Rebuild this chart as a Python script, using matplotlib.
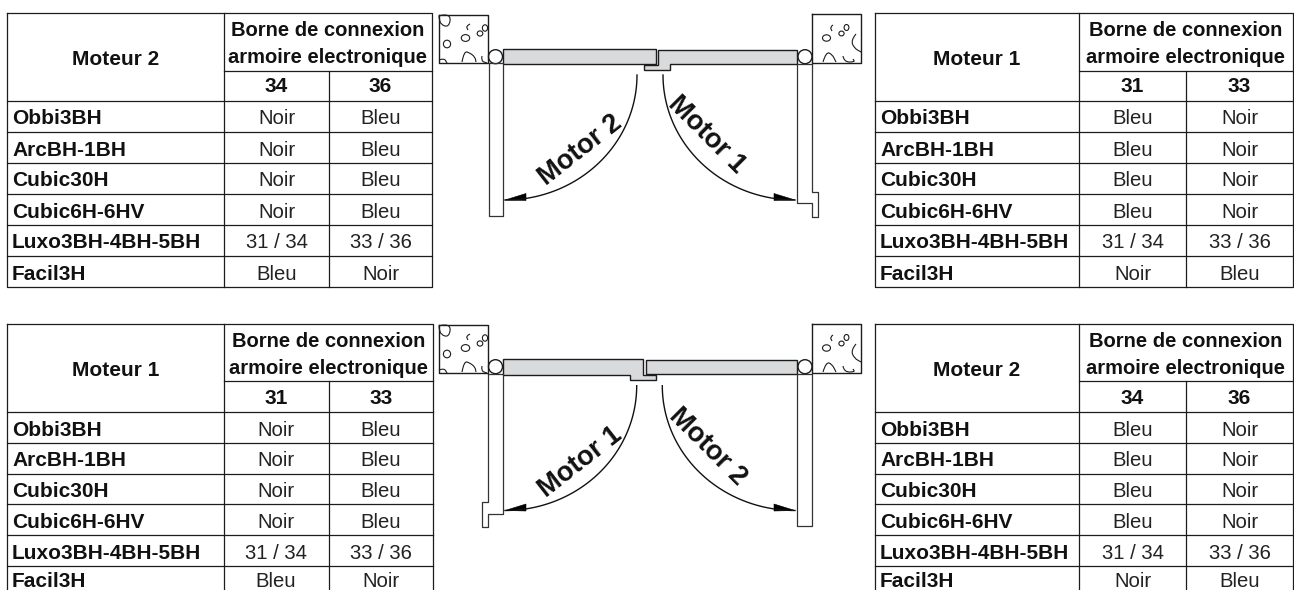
import matplotlib.pyplot as plt
from matplotlib.patches import Circle, Ellipse, Polygon, PathPatch
from matplotlib.path import Path
import numpy as np

plt.rcParams['font.family'] = ['Liberation Sans', 'DejaVu Sans']

# table contents
models = ['Obbi3BH', 'ArcBH-1BH', 'Cubic30H', 'Cubic6H-6HV', 'Luxo3BH-4BH-5BH', 'Facil3H']
header = ['Borne de connexion', 'armoire electronique']
vals_a = ['Noir', 'Noir', 'Noir', 'Noir', '31 / 34', 'Bleu']
vals_b = ['Bleu', 'Bleu', 'Bleu', 'Bleu', '33 / 36', 'Noir']
vals_c = ['Bleu', 'Bleu', 'Bleu', 'Bleu', '31 / 34', 'Noir']
vals_d = ['Noir', 'Noir', 'Noir', 'Noir', '33 / 36', 'Bleu']

LINE = '#1c1c1c'
GREY = '#d9dadb'
INK = '#111111'

fig = plt.figure(figsize=(12.94, 5.9), dpi=100)
ax = fig.add_axes([0, 0, 1, 1])
ax.set_xlim(0, 1294)
ax.set_ylim(590, 0)
ax.axis('off')


def draw_table(xs, y0, split, step, title, cols, col1, col2):
    x0, x1, x2, x3 = xs
    rows = [y0 + 88 + step * i for i in range(7)]
    ax.plot([x0, x3, x3, x0, x0], [y0, y0, rows[6], rows[6], y0], color=LINE, lw=0.9)
    ax.plot([x1, x1], [y0, rows[6]], color=LINE, lw=0.9)
    ax.plot([x2, x2], [split, rows[6]], color=LINE, lw=0.9)
    ax.plot([x1, x3], [split, split], color=LINE, lw=0.9)
    for y in rows[:-1]:
        ax.plot([x0, x3], [y, y], color=LINE, lw=0.9)
    xm = (x1 + x3) / 2
    ax.text((x0 + x1) / 2, y0 + 52, title, ha='center', va='baseline', fontsize=15, fontweight='bold', color=INK)
    ax.text(xm, y0 + 23, header[0], ha='center', va='baseline', fontsize=14.5, fontweight='bold', color=INK)
    ax.text(xm, y0 + 50, header[1], ha='center', va='baseline', fontsize=14.5, fontweight='bold', color=INK)
    ax.text((x1 + x2) / 2, y0 + 79.5, cols[0], ha='center', va='baseline', fontsize=15, fontweight='bold', color=INK)
    ax.text((x2 + x3) / 2, y0 + 79.5, cols[1], ha='center', va='baseline', fontsize=15, fontweight='bold', color=INK)
    for i, m in enumerate(models):
        # last row of the lower tables sits right on the picture edge
        yb = min(rows[i] + 23.5, 587)
        ax.text(x0 + 5, yb, m, ha='left', va='baseline', fontsize=15, fontweight='bold', color=INK)
        ax.text((x1 + x2) / 2, yb, col1[i], ha='center', va='baseline', fontsize=14.6, color='#222222')
        ax.text((x2 + x3) / 2, yb, col2[i], ha='center', va='baseline', fontsize=14.6, color='#222222')


def blob(pts, closed=True):
    # smooth outline through a few points
    pts = np.array(pts, dtype=float)
    if closed:
        mids = (pts + np.roll(pts, -1, axis=0)) / 2
        verts = [mids[-1]]
        codes = [Path.MOVETO]
        for p, m in zip(pts, mids):
            verts += [p, m]
            codes += [Path.CURVE3, Path.CURVE3]
    else:
        verts = [pts[0]]
        codes = [Path.MOVETO]
        for i in range(1, len(pts) - 1):
            verts += [pts[i], (pts[i] + pts[i + 1]) / 2]
            codes += [Path.CURVE3, Path.CURVE3]
        verts.append(pts[-1])
        codes.append(Path.LINETO)
    ax.add_patch(PathPatch(Path(verts, codes), fc='none', ec=LINE, lw=0.8))


def wall_left(dy):
    ax.plot([438.5, 488, 488, 438.5, 438.5], [14.5 + dy, 14.5 + dy, 63 + dy, 63 + dy, 14.5 + dy], color=LINE, lw=1)
    blob([(439, 15 + dy), (451, 15 + dy), (449, 27 + dy), (441, 25 + dy), (439, 18 + dy)])
    blob([(470, 24 + dy), (466, 26 + dy), (468, 30 + dy)], closed=False)
    for cx, cy, rx, ry in [(480, 33.5, 2.8, 2.6), (485, 28, 2.6, 3.2), (465.5, 38, 4.2, 3.4), (447, 44, 3.6, 3.8)]:
        ax.add_patch(Ellipse((cx, cy + dy), 2 * rx, 2 * ry, fc='none', ec=LINE, lw=0.8))
    blob([(439, 60 + dy), (444, 58 + dy), (447, 63 + dy)], closed=False)
    blob([(462, 62 + dy), (464, 51 + dy), (470, 53 + dy), (475, 57 + dy), (476, 62 + dy)], closed=False)
    blob([(482, 56 + dy), (481, 61 + dy), (487, 63 + dy)], closed=False)


def wall_right(dy):
    ax.plot([812, 861, 861, 812, 812], [14 + dy, 14 + dy, 62.5 + dy, 62.5 + dy, 14 + dy], color=LINE, lw=1)
    blob([(833, 25 + dy), (830, 27 + dy), (832, 31 + dy)], closed=False)
    for cx, cy, rx, ry in [(826.5, 38, 4, 3.2), (841.5, 33.5, 2.6, 2.4), (846.5, 27.5, 2.4, 3)]:
        ax.add_patch(Ellipse((cx, cy + dy), 2 * rx, 2 * ry, fc='none', ec=LINE, lw=0.8))
    blob([(856, 34 + dy), (851, 40 + dy), (854, 48 + dy), (861, 52 + dy)], closed=False)
    blob([(823, 62 + dy), (826, 52 + dy), (832, 54 + dy), (836, 62 + dy)], closed=False)
    blob([(843, 56 + dy), (844, 62 + dy), (855, 62 + dy), (853, 59 + dy)], closed=False)


def swing(x0, y0, x1, y1, xc, yc):
    # quarter ellipse from the leaf down to the open door, with arrow head
    t = np.linspace(0, np.pi / 2, 60)
    xs = xc + (x0 - xc) * np.cos(t)
    ys = yc + (y1 - yc) * np.sin(t)
    ax.plot(xs, ys, color=INK, lw=1)
    head = -1 if x1 < x0 else 1
    ax.add_patch(Polygon([(x1, y1), (x1 - head * 21, y1 - 6.5), (x1 - head * 21, y1 + 0.5)],
                         fc='#000000', ec='#000000', lw=0.4))


def door(dy, mirror_bottom):
    # top row: right leaf owns the lip, bottom row: left leaf owns it
    for cx in (495.5, 805):
        ax.add_patch(Circle((cx, 56.7 + dy), 7, fc='white', ec=LINE, lw=1))
    if not mirror_bottom:
        ax.add_patch(Polygon([(503, 49), (655.5, 49), (655.5, 63.5), (503, 63.5)], fc=GREY, ec=LINE, lw=1))
        ax.add_patch(Polygon([(658, 49.5), (797, 49.5), (797, 63.5), (670, 63.5), (670, 70), (644, 70),
                              (644, 65), (658, 65)], fc=GREY, ec=LINE, lw=1))
    else:
        ax.add_patch(Polygon([(503, 359), (642.7, 359), (642.7, 374.5), (656, 374.5), (656, 380), (630, 380),
                              (630, 374.5), (503, 374.5)], fc=GREY, ec=LINE, lw=1))
        ax.add_patch(Polygon([(646, 359.5), (796.5, 359.5), (796.5, 374), (646, 374)], fc=GREY, ec=LINE, lw=1))


draw_table((7, 224, 329, 432), 13, 71, 31, 'Moteur 2', ('34', '36'), vals_a, vals_b)
draw_table((875, 1079, 1186, 1293), 13, 71, 31, 'Moteur 1', ('31', '33'), vals_c, vals_d)
draw_table((7, 223.5, 328.5, 433), 324, 381, 30.8, 'Moteur 1', ('31', '33'), vals_a, vals_b)
draw_table((875, 1079, 1186, 1293), 324, 381, 30.8, 'Moteur 2', ('34', '36'), vals_c, vals_d)

# top door
wall_left(0)
wall_right(0)
door(0, False)
ax.plot([488.5, 488.5, 502.5, 502.5, 488.5], [63, 215.5, 215.5, 63, 63], color='#333333', lw=0.9)
ax.plot([812, 797, 797, 812, 812, 818, 818, 812, 812], [64, 64, 203, 203, 217, 217, 192, 192, 64], color='#333333', lw=0.9)
swing(637, 75, 505, 200, 505, 75)
swing(663, 75, 795, 200, 795, 75)
ax.text(580, 150, 'Motor 2', rotation=38, ha='center', va='center', rotation_mode='anchor', fontsize=19.5, fontweight='bold', color=INK)
ax.text(707, 135, 'Motor 1', rotation=-45, ha='center', va='center', rotation_mode='anchor', fontsize=19.5, fontweight='bold', color=INK)

# bottom door
wall_left(310)
wall_right(310)
door(310, True)
ax.plot([488, 488, 481.7, 481.7, 487.5, 487.5, 502.7, 502.7, 488], [374, 501.7, 501.7, 527, 527, 514, 514, 374, 374], color='#333333', lw=0.9)
ax.plot([797, 797, 812, 812, 797], [374, 525.7, 525.7, 374, 374], color='#333333', lw=0.9)
swing(636.7, 385.7, 505, 510.5, 505, 385.7)
swing(662.3, 385.7, 795, 510.5, 795, 385.7)
ax.text(580, 462, 'Motor 1', rotation=38, ha='center', va='center', rotation_mode='anchor', fontsize=19.5, fontweight='bold', color=INK)
ax.text(708, 447, 'Motor 2', rotation=-45, ha='center', va='center', rotation_mode='anchor', fontsize=19.5, fontweight='bold', color=INK)

fig.savefig('out.png', dpi=100)
